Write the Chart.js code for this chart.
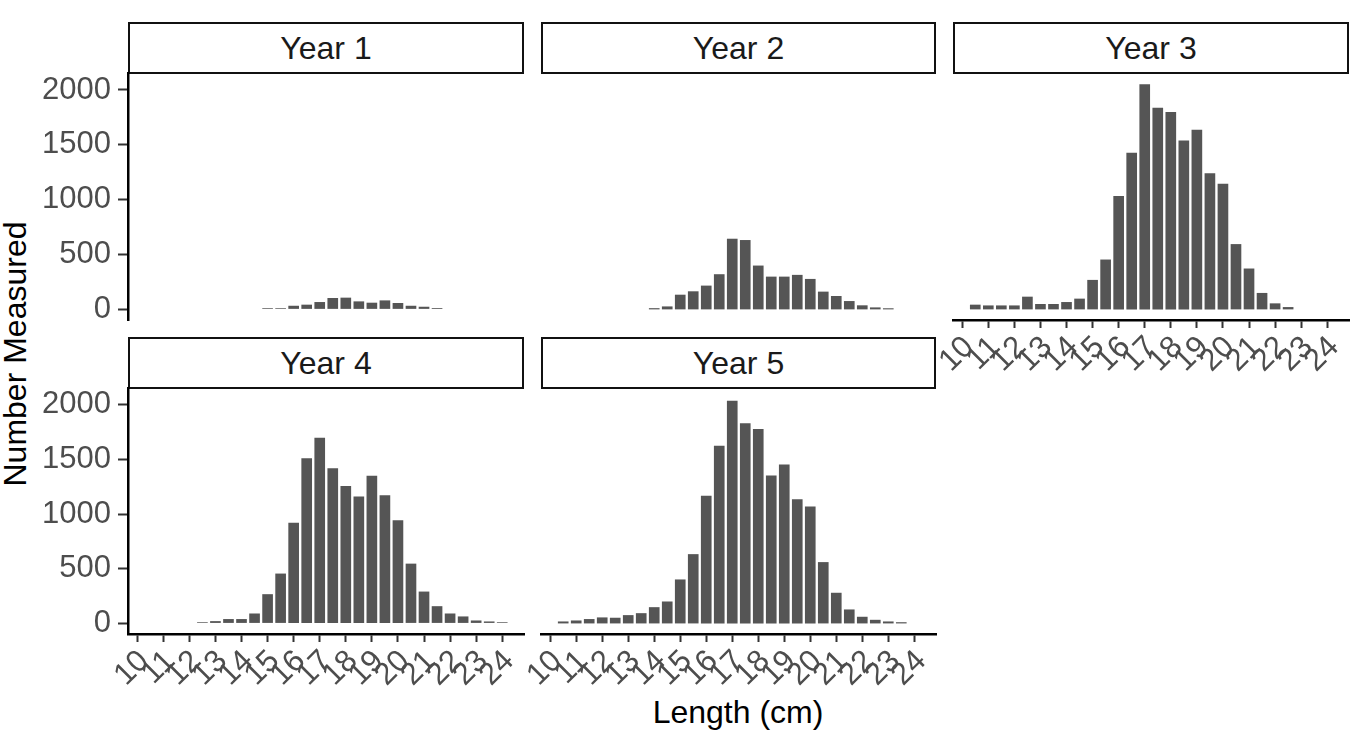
<!DOCTYPE html>
<html>
<head>
<meta charset="utf-8">
<script src="https://cdn.jsdelivr.net/npm/chart.js@4.4.1/dist/chart.umd.min.js"></script>
<style>
  body { margin: 0; background: #fff; width: 1370px; height: 740px; position: relative; overflow: hidden;
         font-family: "Liberation Sans", Arial, sans-serif; }
  .strip { position: absolute; box-sizing: border-box; border: 2px solid #111; background: #fff;
           display: flex; align-items: center; justify-content: center; font-size: 32px; color: #1a1a1a; }
  canvas { position: absolute; }
  .title { position: absolute; font-size: 32px; line-height: 1; color: #000; white-space: nowrap; }
</style>
</head>
<body>
<div class="title" style="left:738px; top:696px; transform:translateX(-50%);">Length (cm)</div>
<div class="title" style="left:15px; top:354px; transform:translate(-50%,-50%) rotate(-90deg);">Number Measured</div>
<script>
// data
var years = ['Year 1', 'Year 2', 'Year 3', 'Year 4', 'Year 5'];
var lengths = [10, 10.5, 11, 11.5, 12, 12.5, 13, 13.5, 14, 14.5, 15, 15.5, 16, 16.5, 17, 17.5,
               18, 18.5, 19, 19.5, 20, 20.5, 21, 21.5, 22, 22.5, 23, 23.5, 24];
var year1 = [0, 0, 0, 0, 0, 0, 0, 0, 0, 0, 4, 5, 27, 37, 61, 98, 101, 67, 55, 76, 52, 27, 18, 6, 0, 0, 0, 0, 0];
var year2 = [0, 0, 0, 0, 0, 0, 0, 0, 5, 21, 128, 159, 211, 315, 639, 627, 394, 293, 293, 309, 272, 156, 116, 70, 31, 12, 4, 0, 0];
var year3 = [0, 37, 30, 30, 30, 110, 43, 43, 61, 92, 263, 449, 1030, 1425, 2049, 1835, 1795, 1535, 1633, 1236, 1141, 590, 367, 144, 49, 15, 0, 0, 0];
var year4 = [0, 0, 0, 0, 0, 5, 15, 34, 34, 85, 262, 451, 917, 1509, 1695, 1417, 1253, 1158, 1347, 1168, 939, 542, 286, 152, 85, 58, 21, 12, 5];
var year5 = [0, 12, 21, 34, 49, 46, 70, 88, 143, 195, 397, 629, 1165, 1623, 2036, 1828, 1777, 1349, 1450, 1132, 1065, 556, 275, 122, 55, 27, 12, 5, 0];
var xTicks = [10, 11, 12, 13, 14, 15, 16, 17, 18, 19, 20, 21, 22, 23, 24];
var xTickLabels = ['10', '11', '12', '13', '14', '15', '16', '17', '18', '19', '20', '21', '22', '23', '24'];
var yTicks = [0, 500, 1000, 1500, 2000];
var yTickLabels = ['0', '500', '1000', '1500', '2000'];

var counts = [year1, year2, year3, year4, year5];

// facet layout (panel boxes in page pixels)
var panels = [
  { l: 128, t: 73,  r: 524,  b: 320, stripTop: 22,  showY: true,  showX: false },
  { l: 541, t: 73,  r: 936,  b: 320, stripTop: 22,  showY: false, showX: false },
  { l: 953, t: 73,  r: 1349, b: 320, stripTop: 22,  showY: false, showX: true },
  { l: 128, t: 388, r: 524,  b: 634, stripTop: 337, showY: true,  showX: true },
  { l: 541, t: 388, r: 936,  b: 634, stripTop: 337, showY: false, showX: true }
];

Chart.defaults.font.family = '"Liberation Sans", Arial, sans-serif';

var padL = 88, padT = 10, padR = 10, axisH = 75;

panels.forEach(function(p, i) {
  // strip
  var s = document.createElement('div');
  s.className = 'strip';
  s.style.left = p.l + 'px';
  s.style.top = p.stripTop + 'px';
  s.style.width = (p.r - p.l) + 'px';
  s.style.height = (p.t - p.stripTop + 1) + 'px';
  s.textContent = years[i];
  document.body.appendChild(s);

  // panel
  var cv = document.createElement('canvas');
  cv.width = (p.r - p.l) + padL + padR;
  cv.height = (p.b - p.t) + padT + (p.showX ? axisH : 10);
  cv.style.left = (p.l - padL) + 'px';
  cv.style.top = (p.t - padT) + 'px';
  document.body.appendChild(cv);

  new Chart(cv, {
    type: 'bar',
    data: {
      datasets: [{
        // empty bins get no bar
        data: lengths.map(function(x, k) { return { x: x, y: counts[i][k] || null }; }),
        backgroundColor: '#555555',
        barThickness: 10
      }]
    },
    options: {
      responsive: false,
      animation: false,
      devicePixelRatio: 1,
      layout: { padding: { left: p.showY ? 0 : padL, top: padT, right: padR, bottom: p.showX ? 0 : 10 } },
      plugins: { legend: { display: false }, tooltip: { enabled: false } },
      scales: {
        x: {
          type: 'linear',
          min: 9.646,
          max: 24.835,
          offset: false,
          display: p.showX,
          grid: { offset: false, drawOnChartArea: false, drawTicks: true, tickLength: 8, tickWidth: 2, color: '#333' },
          border: { display: true, color: '#000', width: 2.5 },
          ticks: {
            autoSkip: false, minRotation: 45, maxRotation: 45, padding: 1, labelOffset: 7,
            color: '#4d4d4d', font: { size: 31 },
            callback: function(v, k) { return xTickLabels[k]; }
          },
          afterBuildTicks: function(sc) { sc.ticks = xTicks.map(function(v) { return { value: v }; }); },
          afterFit: function(sc) {
            if (!p.showX) return;
            sc.height = axisH; sc.paddingLeft = 0; sc.paddingRight = 0;
          }
        },
        y: {
          min: -100,
          max: 2155,
          display: p.showY,
          grid: { drawOnChartArea: false, drawTicks: true, tickLength: 10, tickWidth: 2, color: '#333' },
          border: { display: true, color: '#000', width: 2.5 },
          ticks: {
            padding: 7, color: '#4d4d4d', font: { size: 31 },
            callback: function(v, k) { return yTickLabels[k]; }
          },
          afterBuildTicks: function(sc) { sc.ticks = yTicks.map(function(v) { return { value: v }; }); },
          afterFit: function(sc) {
            if (!p.showY) return;
            sc.width = padL; sc.paddingTop = 0; sc.paddingBottom = 0;
          }
        }
      }
    }
  });
});
</script>
</body>
</html>
